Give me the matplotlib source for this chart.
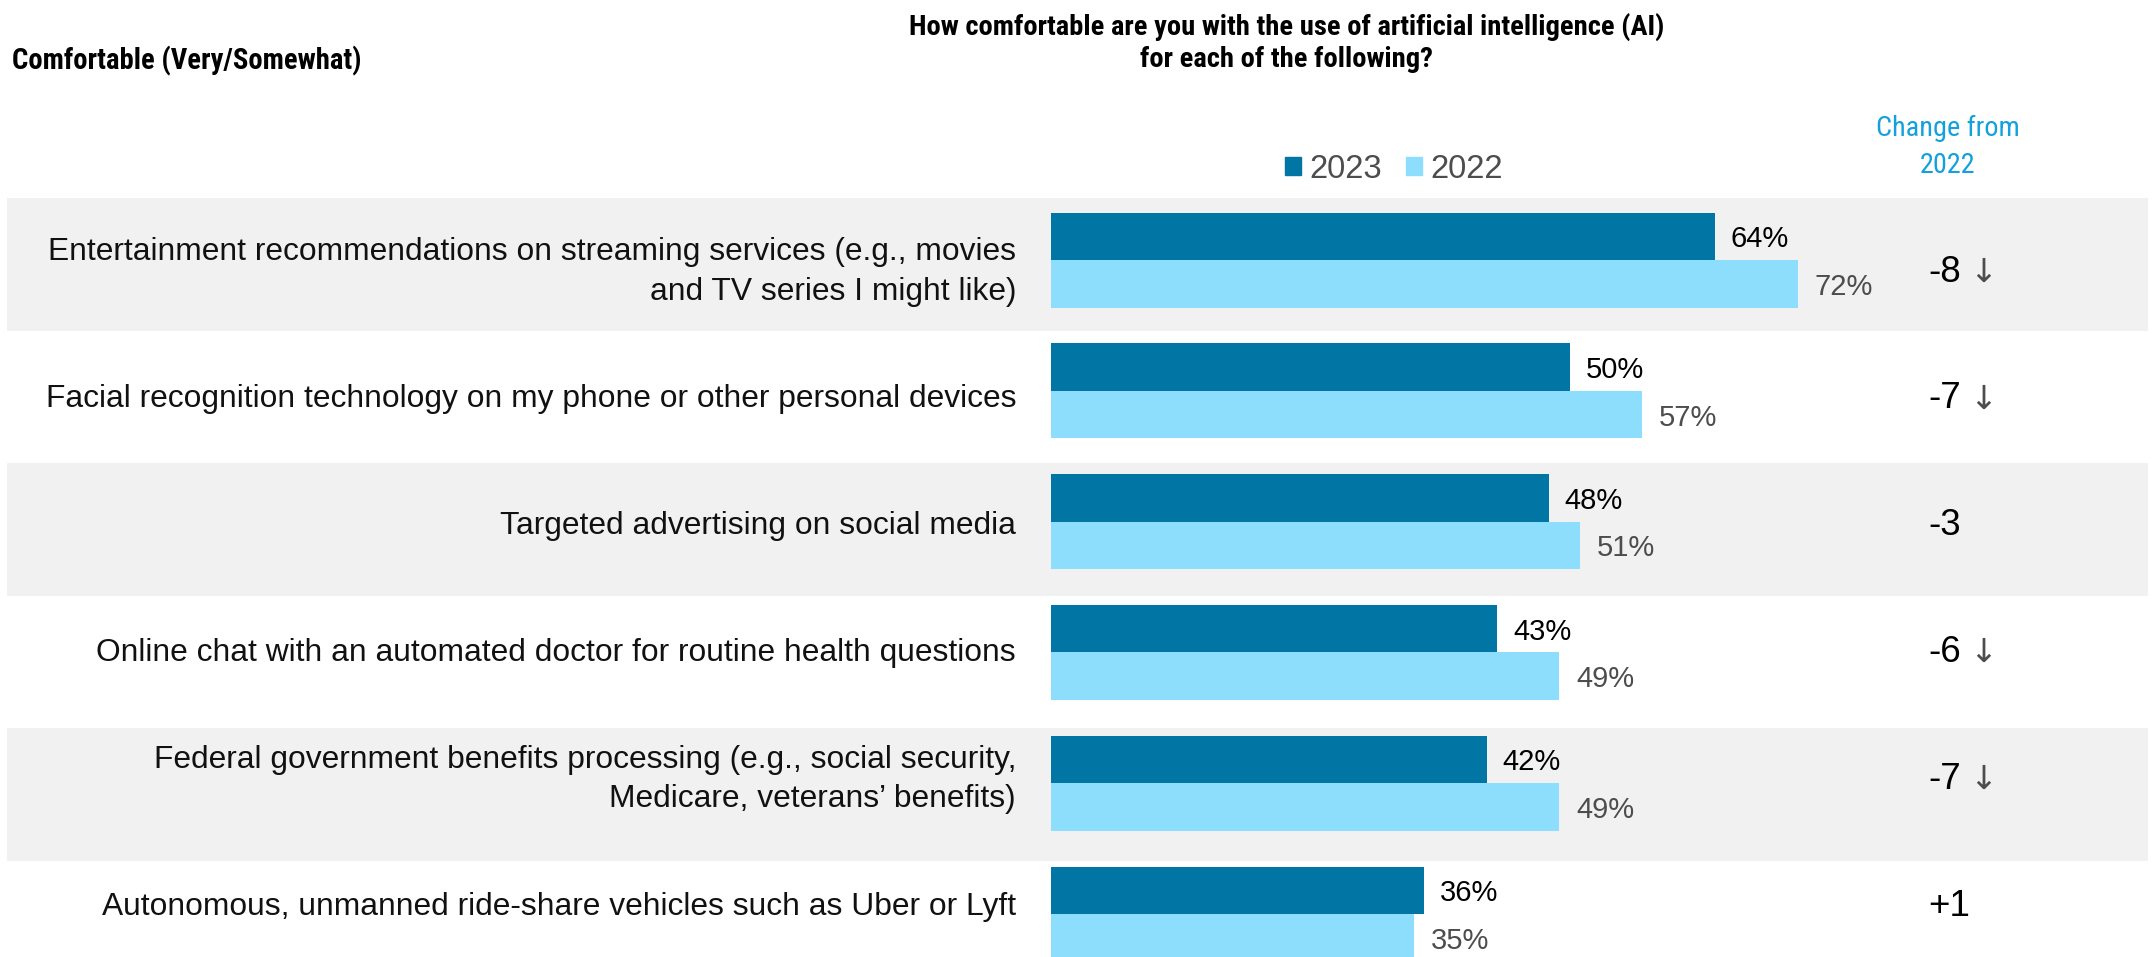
import matplotlib
matplotlib.use("Agg")
import matplotlib.pyplot as plt
import numpy as np
from matplotlib import font_manager
from matplotlib.patches import Patch

# survey items, top to bottom
items = [
    "Entertainment recommendations on streaming services (e.g., movies\nand TV series I might like)",
    "Facial recognition technology on my phone or other personal devices",
    "Targeted advertising on social media",
    "Online chat with an automated doctor for routine health questions",
    "Federal government benefits processing (e.g., social security,\nMedicare, veterans\u2019 benefits)",
    "Autonomous, unmanned ride-share vehicles such as Uber or Lyft",
]
pct_2023 = [64, 50, 48, 43, 42, 36]
pct_2022 = [72, 57, 51, 49, 49, 35]
significant = [True, True, False, True, True, False]
years = ["2023", "2022"]

DARK = "#0175a3"
LIGHT = "#8cdefc"
BAND = "#f1f1f1"
GREY_TXT = "#4d4d4d"
CYAN = "#14a0dc"

# pick a narrow face for the headers if one is installed
installed = {f.name for f in font_manager.fontManager.ttflist}
cond = next((n for n in ["Roboto Condensed", "Liberation Sans Narrow",
                         "Open Sans Condensed", "Roboto"] if n in installed), "DejaVu Sans")
body = ["Liberation Sans", "DejaVu Sans"]
plt.rcParams["font.family"] = body

W, H = 2154, 957
fig = plt.figure(figsize=(W / 100, H / 100), dpi=100)
ax = fig.add_axes([0, 0, 1, 1])

# scale: 10.37 px per percentage point, bars start at x=1051 px
PX = 10.37
X0 = 1051
PITCH = 130.8     # px between bar pairs
Y0 = 260          # px of first bar pair centre
ax.set_xlim(-X0 / PX, (W - X0) / PX)
ax.set_ylim((H - Y0) / PITCH, -Y0 / PITCH)
ax.axis("off")


def xd(px):
    return (px - X0) / PX


def yd(px):
    return (px - Y0) / PITCH


idx = np.arange(len(items))
row_y = yd(272 + 126.9 * idx)   # text rows
h = 47.5 / PITCH

# alternating grey bands
for i in idx[::2]:
    top = 198 + 132.4 * i
    ax.axhspan(yd(top), yd(top + 133), xmin=7 / W, xmax=2148 / W,
               color=BAND, lw=0, zorder=0)

ax.barh(idx - h / 2, pct_2023, height=h, color=DARK, zorder=2)
ax.barh(idx + h / 2, pct_2022, height=h, color=LIGHT, zorder=2)

nudge = 3 / PITCH
for i in idx:
    ax.text(pct_2023[i] + 16 / PX, idx[i] - h / 2 + nudge, f"{pct_2023[i]}%",
            ha="left", va="center", fontsize=21, color="black")
    ax.text(pct_2022[i] + 17 / PX, idx[i] + h / 2 + nudge, f"{pct_2022[i]}%",
            ha="left", va="center", fontsize=21, color=GREY_TXT)
    ax.text(xd(1016), row_y[i], items[i], ha="right", va="center",
            fontsize=22.9, linespacing=1.42, color="#111111")
    change = pct_2023[i] - pct_2022[i]
    ax.text(xd(1928), row_y[i], f"{change:+d}", ha="left", va="center",
            fontsize=26.5, color="black")
    if significant[i]:
        ax.text(xd(1983), row_y[i], "\u2193", ha="center", va="center",
                fontsize=24, color=GREY_TXT, family="DejaVu Sans")

# headers
fig.text(1287 / W, 1 - 43 / H,
         "How comfortable are you with the use of artificial intelligence (AI)\nfor each of the following?",
         ha="center", va="center", fontsize=20.5, fontweight="bold",
         family=cond, linespacing=1.25)
fig.text(12 / W, 1 - 61 / H, "Comfortable (Very/Somewhat)", ha="left",
         va="center", fontsize=20.6, fontweight="bold", family=cond)
fig.text(1948 / W, 1 - 147 / H, "Change from\n2022", ha="center", va="center",
         fontsize=20.3, color=CYAN, family=cond, linespacing=1.45)

handles = [Patch(color=DARK), Patch(color=LIGHT)]
fig.legend(handles, years, loc="center", bbox_to_anchor=(1394 / W, 1 - 169 / H),
           ncol=2, frameon=False, fontsize=23.6, labelcolor=GREY_TXT,
           handlelength=0.48, handleheight=0.48, handletextpad=0.25,
           columnspacing=0.75, borderpad=0, borderaxespad=0)

fig.savefig("out.png", dpi=100)
